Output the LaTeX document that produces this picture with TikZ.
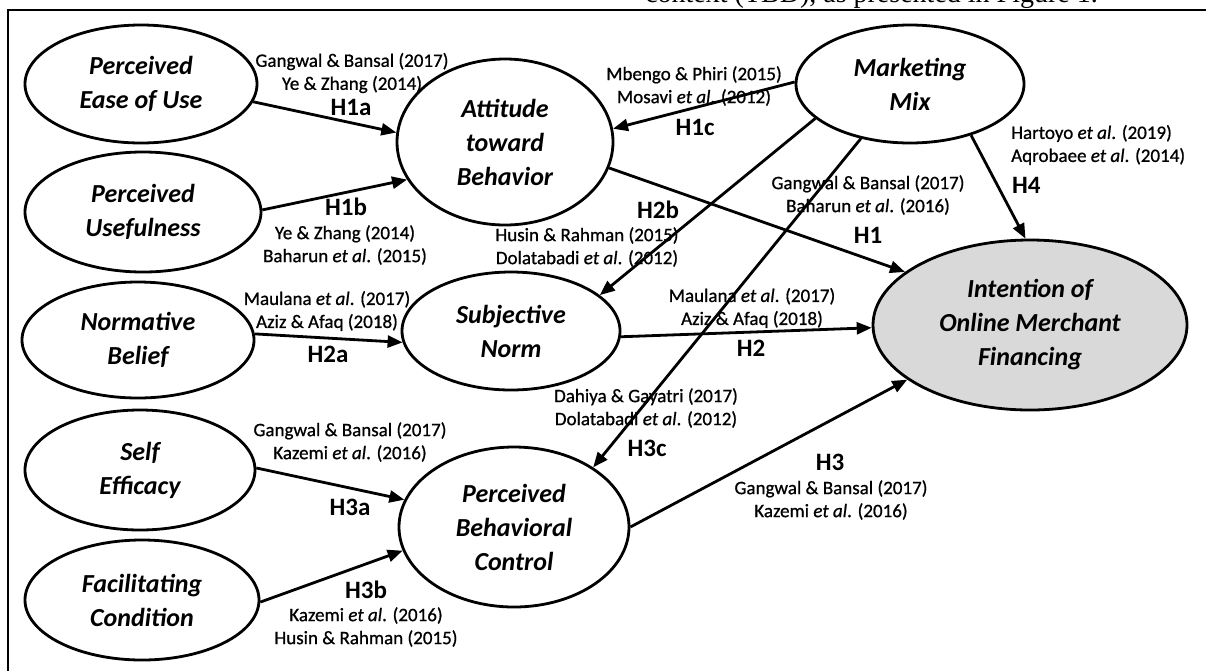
\documentclass[tikz,border=0pt]{standalone}
\usepackage{fontspec}
\setmainfont{Carlito}
\newfontfamily\serifcut{Liberation Serif}
\newfontfamily\citefont[FakeBold=0.8]{Carlito}
\usetikzlibrary{shapes.geometric,arrows.meta}
\begin{document}
\begin{tikzpicture}[x=1pt,y=-1pt,
  var/.style={draw, line width=2.8pt, ellipse, inner sep=0pt, align=center,
    font=\fontsize{26}{34}\selectfont\bfseries\itshape,
    execute at begin node={\rule{0pt}{28pt}}},
  cite/.style={align=center, inner sep=0pt, font=\citefont\fontsize{19}{23}\selectfont},
  hyp/.style={inner sep=0pt, font=\fontsize{25}{30}\selectfont\bfseries},
  conn/.style={line width=2.8pt, -{Triangle[length=15pt,width=12pt]}},
  frameline/.style={line width=2.5pt}
]
\useasboundingbox (0,0) rectangle (1206,670);
\clip (0,0) rectangle (1206,670);
\fill[white] (0,0) rectangle (1206,670);

% cropped caption line and frame
\node[anchor=base east, inner sep=0pt, font=\serifcut\fontsize{28}{30}\selectfont] (cap) at (1098,2) {context (TBD), as presented in Figure 1.};
\draw[frameline] (8,672) -- (8,10) -- (1208,10);

% constructs
\node[var, minimum width=232pt, minimum height=118pt] (peu) at (141,84) {Perceived\\Ease of Use};
\node[var, minimum width=236pt, minimum height=120pt] (pu) at (143,212) {Perceived\\Usefulness};
\node[var, minimum width=232pt, minimum height=116pt] (nb) at (138,340) {Normative\\Belief};
\node[var, minimum width=230pt, minimum height=120pt] (se) at (140,470) {Self\\Efficacy};
\node[var, minimum width=234pt, minimum height=120pt] (fc) at (142,600) {Facilitating\\Condition};
\node[var, minimum width=216pt, minimum height=166pt] (atb) at (505,142) {Attitude\\toward\\Behavior};
\node[var, minimum width=218pt, minimum height=118pt] (sn) at (511,331) {Subjective\\Norm};
\node[var, minimum width=230pt, minimum height=160pt] (pbc) at (514,527) {Perceived\\Behavioral\\Control};
\node[var, minimum width=228pt, minimum height=118pt] (mm) at (910,84) {Marketing\\Mix};
\node[var, fill=black!15, minimum width=314pt, minimum height=170pt] (iomf) at (1030,325) {Intention of\\Online Merchant\\Financing};

% connectors
\draw[conn] (peu.-9) -- (atb.175);
\draw[conn] (pu.1) -- (atb.-159);
\draw[conn] (mm.179.5) -- (atb.7);
\draw[conn] (atb.-14) -- (iomf.157);
\draw[conn] (mm.-160) -- (sn.22);
\draw[conn] (mm.-132) -- (pbc.37);
\draw[conn] (mm.-40) -- (iomf.93);
\draw[conn] (nb.3.5) -- (sn.186);
\draw[conn] (sn.-3) -- (iomf.181);
\draw[conn] (se.1.5) -- (pbc.166);
\draw[conn] (fc.-1) -- (pbc.192);
\draw[conn] (pbc.-0.5) -- (iomf.204);

% labels
\node[cite] (c1a) at (352,73) {Gangwal \& Bansal (2017)\\Ye \& Zhang (2014)};
\node[hyp] (h1a) at (351,107) {H1a};
\node[hyp] (h1b) at (346,207) {H1b};
\node[cite] (c1b) at (345,245) {Ye \& Zhang (2014)\\Baharun \textit{et al}. (2015)};
\node[cite] (c1c) at (694,86) {Mbengo \& Phiri (2015)\\Mosavi \textit{et al}. (2012)};
\node[hyp] (h1c) at (695,127) {H1c};
\node[hyp] (h2b) at (658,210) {H2b};
\node[cite] (c2b) at (587,247) {Husin \& Rahman (2015)\\Dolatabadi \textit{et al}. (2012)};
\node[cite] (c1) at (868,195) {Gangwal \& Bansal (2017)\\Baharun \textit{et al}. (2016)};
\node[hyp] (h1) at (868,235) {H1};
\node[cite, anchor=west, align=left] (c4) at (1011,145) {Hartoyo \textit{et al}. (2019)\\Aqrobaee \textit{et al}. (2014)};
\node[hyp, anchor=west] (h4) at (1012,185) {H4};
\node[cite] (c2a) at (327,311) {Maulana \textit{et al}. (2017)\\Aziz \& Afaq (2018)};
\node[hyp] (h2a) at (328,354) {H2a};
\node[cite] (c2) at (752,308) {Maulana \textit{et al}. (2017)\\Aziz \& Afaq (2018)};
\node[hyp] (h2) at (751,348) {H2};
\node[cite] (c3c) at (646,408) {Dahiya \& Gayatri (2017)\\Dolatabadi \textit{et al}. (2012)};
\node[hyp] (h3c) at (647,448) {H3c};
\node[cite] (c3a) at (350,442) {Gangwal \& Bansal (2017)\\Kazemi \textit{et al}. (2016)};
\node[hyp] (h3a) at (350,507) {H3a};
\node[hyp] (h3b) at (366,590) {H3b};
\node[cite] (c3b) at (366,627) {Kazemi \textit{et al}. (2016)\\Husin \& Rahman (2015)};
\node[hyp] (h3) at (830,462) {H3};
\node[cite] (c3) at (831,500) {Gangwal \& Bansal (2017)\\Kazemi \textit{et al}. (2016)};
\end{tikzpicture}
\end{document}
